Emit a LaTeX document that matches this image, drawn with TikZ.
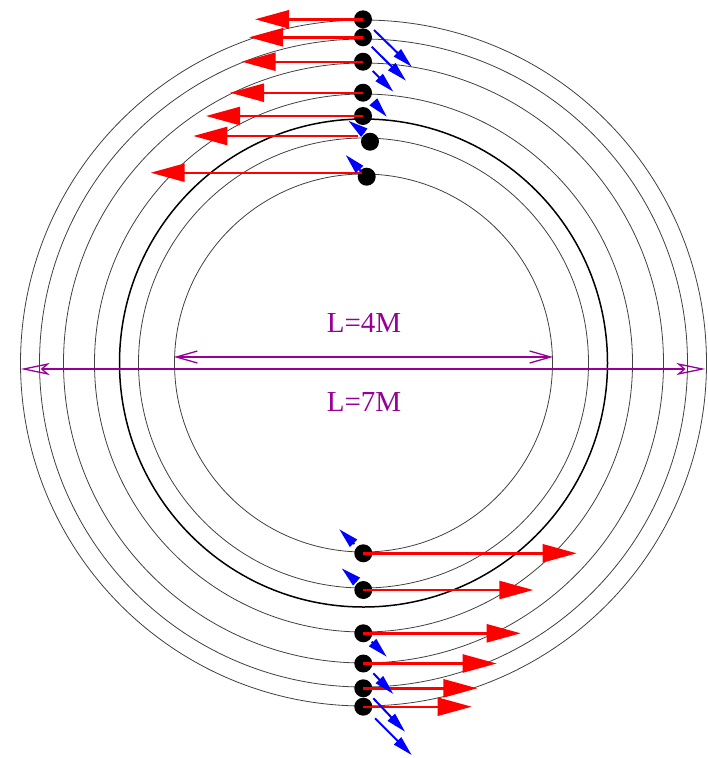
\documentclass[tikz,border=0pt]{standalone}
\usepackage{fontspec}
\setmainfont{Liberation Serif}
\usetikzlibrary{arrows.meta}
\definecolor{lpurple}{RGB}{150,0,150}
\begin{document}
\begin{tikzpicture}[x=1pt,y=-1pt,
  orbit/.style={draw=black!75, line width=0.8pt},
  orbitthick/.style={draw=black, line width=1.5pt},
  dot/.style={circle, fill=black, inner sep=0pt, minimum size=18pt},
  redarr/.style={draw=red, line width=2.4pt, -{Triangle[length=34pt,width=18pt]}},
  bluearr/.style={draw=blue, line width=2pt, -{Triangle[length=20pt,width=10pt]}},
  bigdim/.style={draw=lpurple, line width=2pt, {Stealth[open,length=29pt,width=12pt,inset=7pt,line width=1.3pt]}-{Stealth[open,length=29pt,width=12pt,inset=7pt,line width=1.3pt]}},
  smalldim/.style={draw=lpurple, line width=2pt, {Straight Barb[length=21pt,width=12pt,line width=1.3pt]}-{Straight Barb[length=21pt,width=12pt,line width=1.3pt]}},
  lab/.style={text=lpurple, font=\fontsize{29}{30}\selectfont, inner sep=0pt}
]
\useasboundingbox (0,0) rectangle (708,758);
% orbits
\foreach \r in {343,324,300,269,225,189}
  \draw[orbit] (363.5,363) circle[radius=\r pt];
\draw[orbitthick] (363.5,363) circle[radius=244pt];
% dots
\foreach \i/\x/\y in {1/363/19.3, 2/363/37.3, 3/363/61.7, 4/363/92.7, 5/363/116,
    6/370/141.7, 7/366.7/176.7, 8/363.3/553.3, 9/363.3/590, 10/363.3/633.3,
    11/363.3/663.5, 12/363.3/688.3, 13/363.3/706.7}
  \node[dot] (d\i) at (\x,\y) {};
% red arrows
\foreach \i/\x in {1/255, 2/249, 3/241.7, 4/230, 5/206, 8/576.7, 9/533.3, 10/520.7,
    11/496.7, 12/477.3, 13/471.7}
  \coordinate (r\i) at (\x, 0 |- d\i.center);
\foreach \i in {1,2,3,4,5,8,9,10,11,12,13}
  \draw[redarr] (d\i.center) -- (r\i);
\coordinate (s6) at (358,136);
\coordinate (r6) at (193.3,136);
\coordinate (s7) at (362,172.7);
\coordinate (r7) at (150.7,172.7);
\draw[redarr] (s6) -- (r6);
\draw[redarr] (s7) -- (r7);
% blue arrows
\foreach \n/\ax/\ay/\bx/\by in {A/374/30/411.7/66.7, B/371.7/46.7/406/80.7,
    C/372.7/71/393.3/91.7, D/374/102.5/386.7/116.7, E/364.3/132.7/348.3/120.7,
    F/361.7/171.7/345.7/155, G/354.3/544/339.3/529.3, H/356.7/581.7/341.7/568.3,
    I/371.7/641.7/386.7/656.7, J/373.3/673.3/393.3/694, K/373.3/698.3/405/731.7,
    L/375/718.3/411.7/755}
{
  \coordinate (b\n1) at (\ax,\ay);
  \coordinate (b\n2) at (\bx,\by);
  \draw[bluearr] (b\n1) -- (b\n2);
}
% dimension arrows
\coordinate (p1) at (20.7,369);
\coordinate (p2) at (705.5,369);
\coordinate (q1) at (174,357);
\coordinate (q2) at (553,357);
\draw[bigdim] (p1) -- (p2);
\draw[smalldim] (q1) -- (q2);
\node[lab] (t4) at (364,323) {L=4M};
\node[lab] (t7) at (364,402) {L=7M};
\end{tikzpicture}
\end{document}
